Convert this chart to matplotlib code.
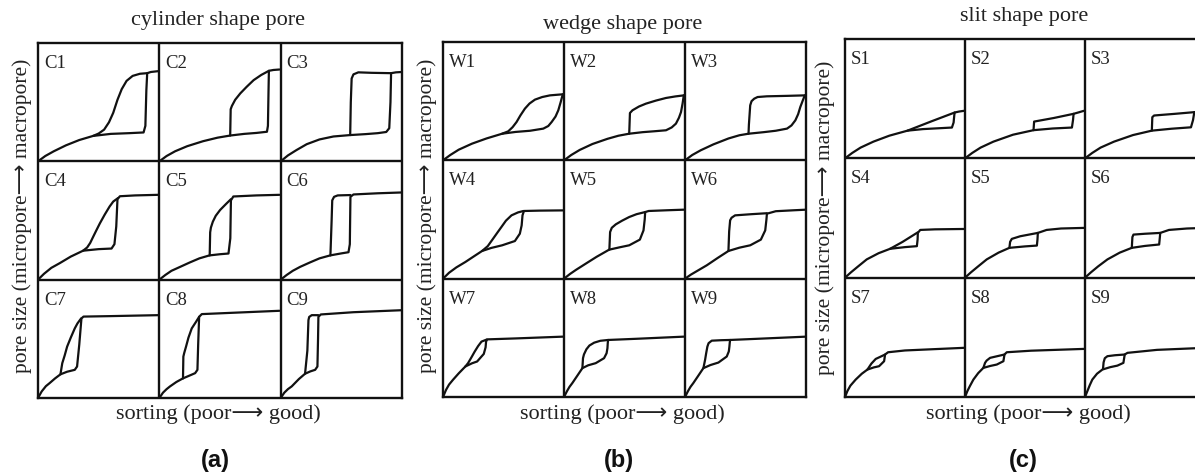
import matplotlib
matplotlib.use("Agg")
import matplotlib.pyplot as plt

SERIF = ["Liberation Serif", "DejaVu Sans"]
SANS = ["Liberation Sans", "DejaVu Sans"]

# each cell is a unit square; curves are (x, y) points inside it
# order: cell 1..9, left to right, top row first
# every entry: (adsorption branch, desorption branch)
cylinder_curves = [
    ([(0, 0), (0.06, 0.045), (0.13, 0.085), (0.23, 0.135), (0.34, 0.18), (0.455, 0.215), (0.6, 0.232),
      (0.75, 0.238), (0.87, 0.244), (0.885, 0.3), (0.893, 0.6), (0.9, 0.745), (0.93, 0.755), (0.99, 0.762)],
     [(0.9, 0.745), (0.84, 0.74), (0.78, 0.722), (0.73, 0.68), (0.69, 0.61), (0.655, 0.52), (0.62, 0.41),
      (0.585, 0.33), (0.545, 0.268), (0.5, 0.235), (0.455, 0.215)]),
    ([(0, 0), (0.06, 0.045), (0.13, 0.085), (0.23, 0.128), (0.36, 0.17), (0.48, 0.2), (0.584, 0.218),
      (0.7, 0.232), (0.8, 0.24), (0.887, 0.25), (0.895, 0.3), (0.9, 0.6), (0.903, 0.765), (0.94, 0.772), (0.99, 0.776)],
     [(0.903, 0.765), (0.84, 0.73), (0.777, 0.686), (0.72, 0.63), (0.667, 0.574), (0.625, 0.52),
      (0.598, 0.468), (0.588, 0.44), (0.584, 0.218)]),
    ([(0, 0), (0.06, 0.05), (0.13, 0.095), (0.215, 0.145), (0.32, 0.185), (0.435, 0.21), (0.573, 0.222),
      (0.7, 0.23), (0.8, 0.238), (0.87, 0.248), (0.895, 0.28), (0.905, 0.5), (0.91, 0.745), (0.95, 0.752), (1.0, 0.755)],
     [(0.91, 0.745), (0.75, 0.748), (0.64, 0.752), (0.6, 0.735), (0.585, 0.7), (0.578, 0.5), (0.573, 0.222)]),
    ([(0, 0), (0.05, 0.05), (0.11, 0.1), (0.18, 0.14), (0.27, 0.195), (0.372, 0.245), (0.5, 0.258),
      (0.606, 0.263), (0.63, 0.3), (0.645, 0.45), (0.655, 0.68), (0.675, 0.705), (0.8, 0.712), (0.99, 0.717)],
     [(0.66, 0.69), (0.62, 0.66), (0.59, 0.618), (0.55, 0.55), (0.51, 0.476), (0.48, 0.415), (0.455, 0.363),
      (0.43, 0.31), (0.405, 0.272), (0.372, 0.245)]),
    ([(0, 0), (0.05, 0.04), (0.1, 0.075), (0.171, 0.108), (0.25, 0.145), (0.33, 0.18), (0.413, 0.205),
      (0.5, 0.215), (0.57, 0.221), (0.585, 0.35), (0.59, 0.67), (0.61, 0.703), (0.8, 0.712), (0.99, 0.717)],
     [(0.59, 0.68), (0.55, 0.64), (0.501, 0.589), (0.465, 0.54), (0.441, 0.49), (0.425, 0.44), (0.419, 0.4),
      (0.415, 0.205)]),
    ([(0, 0), (0.05, 0.04), (0.1, 0.075), (0.16, 0.108), (0.24, 0.145), (0.32, 0.18), (0.408, 0.205),
      (0.5, 0.222), (0.559, 0.232), (0.57, 0.3), (0.575, 0.7), (0.6, 0.72), (0.8, 0.73), (1.0, 0.737)],
     [(0.575, 0.715), (0.47, 0.712), (0.44, 0.7), (0.425, 0.67), (0.42, 0.5), (0.41, 0.205)]),
    ([(0, 0), (0.03, 0.055), (0.065, 0.1), (0.096, 0.126), (0.14, 0.165), (0.185, 0.2), (0.24, 0.222),
      (0.303, 0.238), (0.322, 0.266), (0.34, 0.45), (0.358, 0.672), (0.375, 0.688), (0.6, 0.692), (0.99, 0.7)],
     [(0.355, 0.672), (0.325, 0.63), (0.303, 0.588), (0.27, 0.51), (0.24, 0.434), (0.22, 0.36), (0.2, 0.294),
      (0.185, 0.2)]),
    ([(0, 0), (0.03, 0.045), (0.06, 0.075), (0.088, 0.098), (0.14, 0.135), (0.193, 0.165), (0.25, 0.19),
      (0.295, 0.21), (0.314, 0.238), (0.32, 0.45), (0.328, 0.686), (0.35, 0.709), (0.6, 0.72), (0.99, 0.737)],
     [(0.328, 0.686), (0.3, 0.64), (0.267, 0.588), (0.24, 0.51), (0.22, 0.434), (0.205, 0.38), (0.198, 0.35),
      (0.195, 0.165)]),
    ([(0, 0), (0.03, 0.045), (0.06, 0.075), (0.091, 0.098), (0.15, 0.16), (0.201, 0.205), (0.245, 0.225),
      (0.284, 0.238), (0.303, 0.266), (0.308, 0.5), (0.311, 0.686), (0.331, 0.706), (0.6, 0.725), (1.0, 0.742)],
     [(0.311, 0.7), (0.256, 0.7), (0.235, 0.685), (0.229, 0.658), (0.22, 0.4), (0.201, 0.205)]),
]

wedge_curves = [
    ([(0, 0), (0.06, 0.045), (0.13, 0.09), (0.24, 0.141), (0.36, 0.185), (0.489, 0.225), (0.6, 0.24),
      (0.72, 0.25), (0.829, 0.268), (0.87, 0.29), (0.898, 0.324), (0.93, 0.37), (0.953, 0.423),
      (0.972, 0.49), (0.99, 0.558)],
     [(0.99, 0.558), (0.93, 0.553), (0.884, 0.549), (0.82, 0.535), (0.76, 0.513), (0.715, 0.48),
      (0.677, 0.437), (0.64, 0.38), (0.608, 0.324), (0.575, 0.28), (0.539, 0.245), (0.489, 0.225)]),
    ([(0, 0), (0.06, 0.045), (0.13, 0.088), (0.235, 0.138), (0.36, 0.182), (0.45, 0.208), (0.539, 0.225),
      (0.65, 0.238), (0.75, 0.246), (0.843, 0.254), (0.89, 0.278), (0.925, 0.31), (0.95, 0.36),
      (0.967, 0.408), (0.98, 0.48), (0.99, 0.549)],
     [(0.99, 0.549), (0.92, 0.54), (0.843, 0.527), (0.76, 0.505), (0.677, 0.479), (0.62, 0.455),
      (0.566, 0.423), (0.545, 0.4), (0.539, 0.225)]),
    ([(0, 0), (0.06, 0.045), (0.13, 0.085), (0.235, 0.135), (0.36, 0.185), (0.45, 0.212), (0.525, 0.225),
      (0.65, 0.238), (0.75, 0.25), (0.843, 0.268), (0.88, 0.295), (0.912, 0.338), (0.935, 0.39),
      (0.953, 0.451), (0.975, 0.51), (0.99, 0.549)],
     [(0.99, 0.549), (0.85, 0.545), (0.677, 0.541), (0.6, 0.535), (0.572, 0.521), (0.55, 0.5),
      (0.539, 0.465), (0.528, 0.3), (0.525, 0.225)]),
    ([(0, 0), (0.05, 0.05), (0.11, 0.095), (0.185, 0.141), (0.25, 0.185), (0.323, 0.234), (0.4, 0.26),
      (0.489, 0.282), (0.594, 0.318), (0.635, 0.38), (0.65, 0.45), (0.657, 0.535), (0.669, 0.572),
      (0.8, 0.575), (0.99, 0.577)],
     [(0.665, 0.572), (0.62, 0.56), (0.566, 0.535), (0.52, 0.49), (0.483, 0.437), (0.45, 0.39),
      (0.414, 0.338), (0.37, 0.275), (0.323, 0.234)]),
    ([(0, 0), (0.05, 0.04), (0.1, 0.075), (0.18, 0.127), (0.27, 0.185), (0.373, 0.245), (0.46, 0.265),
      (0.539, 0.282), (0.627, 0.33), (0.657, 0.408), (0.667, 0.5), (0.671, 0.563), (0.7, 0.572),
      (0.85, 0.578), (0.99, 0.583)],
     [(0.671, 0.563), (0.6, 0.545), (0.539, 0.521), (0.48, 0.49), (0.428, 0.459), (0.395, 0.43),
      (0.381, 0.394), (0.375, 0.245)]),
    ([(0, 0), (0.05, 0.035), (0.1, 0.065), (0.18, 0.113), (0.27, 0.175), (0.359, 0.234), (0.45, 0.262),
      (0.539, 0.282), (0.627, 0.33), (0.663, 0.408), (0.673, 0.5), (0.677, 0.549), (0.75, 0.57),
      (0.9, 0.578), (1.0, 0.583)],
     [(0.677, 0.553), (0.55, 0.545), (0.414, 0.535), (0.385, 0.515), (0.373, 0.493), (0.365, 0.4),
      (0.359, 0.234)]),
    ([(0, 0), (0.025, 0.06), (0.05, 0.105), (0.083, 0.146), (0.13, 0.2), (0.185, 0.258), (0.24, 0.285),
      (0.282, 0.3), (0.337, 0.364), (0.352, 0.42), (0.356, 0.468), (0.365, 0.487), (0.6, 0.495), (0.99, 0.51)],
     [(0.36, 0.485), (0.318, 0.468), (0.29, 0.43), (0.262, 0.384), (0.235, 0.335), (0.207, 0.286),
      (0.185, 0.258)]),
    ([(0, 0), (0.025, 0.05), (0.045, 0.085), (0.069, 0.118), (0.11, 0.18), (0.152, 0.244), (0.2, 0.268),
      (0.262, 0.286), (0.331, 0.328), (0.352, 0.37), (0.359, 0.412), (0.362, 0.46), (0.365, 0.482),
      (0.6, 0.492), (0.99, 0.51)],
     [(0.365, 0.482), (0.3, 0.475), (0.249, 0.459), (0.21, 0.435), (0.185, 0.403), (0.165, 0.36),
      (0.157, 0.328), (0.152, 0.244)]),
    ([(0, 0), (0.025, 0.05), (0.045, 0.085), (0.069, 0.118), (0.11, 0.18), (0.152, 0.244), (0.21, 0.27),
      (0.276, 0.291), (0.345, 0.342), (0.362, 0.385), (0.367, 0.426), (0.37, 0.46), (0.373, 0.482),
      (0.6, 0.492), (1.0, 0.51)],
     [(0.373, 0.482), (0.3, 0.48), (0.221, 0.476), (0.195, 0.455), (0.185, 0.426), (0.175, 0.37),
      (0.166, 0.314), (0.152, 0.244)]),
]

slit_curves = [
    ([(0, 0), (0.06, 0.045), (0.13, 0.09), (0.237, 0.14), (0.37, 0.19), (0.521, 0.232), (0.65, 0.245),
      (0.78, 0.252), (0.891, 0.258), (0.905, 0.3), (0.911, 0.364), (0.914, 0.384), (0.95, 0.392), (0.99, 0.398)],
     [(0.914, 0.384), (0.72, 0.31), (0.521, 0.232)]),
    ([(0, 0), (0.06, 0.045), (0.13, 0.09), (0.237, 0.14), (0.4, 0.198), (0.571, 0.236), (0.73, 0.25),
      (0.891, 0.258), (0.9, 0.32), (0.905, 0.373), (0.95, 0.386), (0.99, 0.398)],
     [(0.905, 0.373), (0.74, 0.338), (0.576, 0.308), (0.571, 0.236)]),
    ([(0, 0), (0.06, 0.045), (0.13, 0.09), (0.242, 0.14), (0.4, 0.195), (0.557, 0.232), (0.72, 0.248),
      (0.883, 0.26), (0.9, 0.32), (0.911, 0.387), (0.95, 0.39), (1.0, 0.395)],
     [(0.911, 0.387), (0.75, 0.373), (0.576, 0.359), (0.561, 0.345), (0.557, 0.232)]),
    ([(0, 0), (0.05, 0.045), (0.11, 0.095), (0.181, 0.153), (0.28, 0.205), (0.376, 0.242), (0.5, 0.256),
      (0.599, 0.264), (0.605, 0.32), (0.607, 0.375), (0.627, 0.4), (0.75, 0.405), (0.99, 0.408)],
     [(0.607, 0.38), (0.48, 0.3), (0.376, 0.242)]),
    ([(0, 0), (0.05, 0.045), (0.11, 0.095), (0.181, 0.153), (0.28, 0.21), (0.37, 0.25), (0.5, 0.262),
      (0.599, 0.269), (0.604, 0.32), (0.607, 0.375), (0.68, 0.4), (0.8, 0.412), (0.99, 0.417)],
     [(0.607, 0.375), (0.46, 0.347), (0.39, 0.325), (0.376, 0.3), (0.37, 0.25)]),
    ([(0, 0), (0.05, 0.045), (0.11, 0.095), (0.187, 0.153), (0.29, 0.21), (0.39, 0.25), (0.5, 0.266),
      (0.618, 0.278), (0.623, 0.33), (0.627, 0.375), (0.7, 0.4), (0.85, 0.412), (1.0, 0.417)],
     [(0.627, 0.375), (0.5, 0.368), (0.404, 0.361), (0.395, 0.34), (0.39, 0.25)]),
    ([(0, 0), (0.02, 0.05), (0.045, 0.095), (0.089, 0.146), (0.14, 0.195), (0.187, 0.23), (0.24, 0.248),
      (0.284, 0.258), (0.326, 0.3), (0.334, 0.356), (0.359, 0.375), (0.5, 0.39), (0.99, 0.412)],
     [(0.334, 0.356), (0.29, 0.335), (0.256, 0.319), (0.22, 0.28), (0.187, 0.23)]),
    ([(0, 0), (0.02, 0.05), (0.04, 0.09), (0.07, 0.146), (0.11, 0.2), (0.153, 0.244), (0.21, 0.26),
      (0.265, 0.272), (0.32, 0.3), (0.329, 0.356), (0.348, 0.375), (0.55, 0.388), (0.99, 0.403)],
     [(0.329, 0.356), (0.26, 0.34), (0.209, 0.328), (0.18, 0.305), (0.167, 0.286), (0.153, 0.244)]),
    ([(0, 0), (0.02, 0.05), (0.04, 0.1), (0.061, 0.146), (0.1, 0.195), (0.145, 0.23), (0.21, 0.25),
      (0.27, 0.263), (0.32, 0.286), (0.331, 0.356), (0.354, 0.37), (0.6, 0.395), (1.0, 0.412)],
     [(0.331, 0.356), (0.25, 0.35), (0.187, 0.342), (0.165, 0.325), (0.155, 0.29), (0.15, 0.235)]),
]

prefixes = ["C", "W", "S"]
titles = ["cylinder shape pore", "wedge shape pore", "slit shape pore"]
letters = ["(a)", "(b)", "(c)"]
ylabel = "pore size (micropore\u27f6 macropore)"
xlabel = "sorting (poor\u27f6 good)"

W, H = 1195, 476
fig = plt.figure(figsize=(W / 100, H / 100), dpi=100)


def px(x0, y_top, x1, y_bot):
    return [x0 / W, 1 - y_bot / H, (x1 - x0) / W, (y_bot - y_top) / H]


# grid boxes in pixels and where the texts around them sit
layout = [
    dict(box=px(38, 43, 402, 398), title=(218, 21), ylab=(22, 216), xlab=(218, 414), letter=(215, 461)),
    dict(box=px(443, 42, 806, 397), title=(623, 24), ylab=(427, 216), xlab=(622, 414), letter=(619, 461)),
    dict(box=px(845, 39, 1205, 397), title=(1024, 17), ylab=(825, 218), xlab=(1028, 414), letter=(1023, 461)),
]

all_curves = [cylinder_curves, wedge_curves, slit_curves]
LW = 1.7
INK = "#111111"
TXT = "#222222"

for p in range(3):
    lay = layout[p]
    ax = fig.add_axes(lay["box"])
    ax.set_xlim(0, 3)
    ax.set_ylim(0, 3)
    ax.set_xticks([])
    ax.set_yticks([])
    for s in ax.spines.values():
        s.set_linewidth(LW)
        s.set_color(INK)
    for k in (1, 2):
        ax.axvline(k, color=INK, lw=LW)
        ax.axhline(k, color=INK, lw=LW)

    for i, (ads, des) in enumerate(all_curves[p]):
        col = i % 3
        row = 2 - i // 3
        for branch in (ads, des):
            xs = [col + pt[0] for pt in branch]
            ys = [row + pt[1] for pt in branch]
            ax.plot(xs, ys, color=INK, lw=1.6,
                    solid_joinstyle="round", solid_capstyle="round")
        ax.text(col + 0.05, row + 0.79, f"{prefixes[p]}{i + 1}",
                fontsize=13.5, family=SERIF, color=TXT)

    tx, ty = lay["title"]
    fig.text(tx / W, 1 - ty / H, titles[p], ha="center", va="center",
             fontsize=16, family=SERIF, color=TXT)
    yx, yy = lay["ylab"]
    fig.text(yx / W, 1 - yy / H, ylabel, ha="center", va="center", rotation=90,
             fontsize=15.5, family=SERIF, color=TXT)
    xx, xy = lay["xlab"]
    fig.text(xx / W, 1 - xy / H, xlabel, ha="center", va="center",
             fontsize=16, family=SERIF, color=TXT)
    lx, ly = lay["letter"]
    fig.text(lx / W, 1 - ly / H, letters[p], ha="center", va="center",
             fontsize=17, family=SANS, fontweight="bold", color=INK)

fig.savefig("out.png", dpi=100)
